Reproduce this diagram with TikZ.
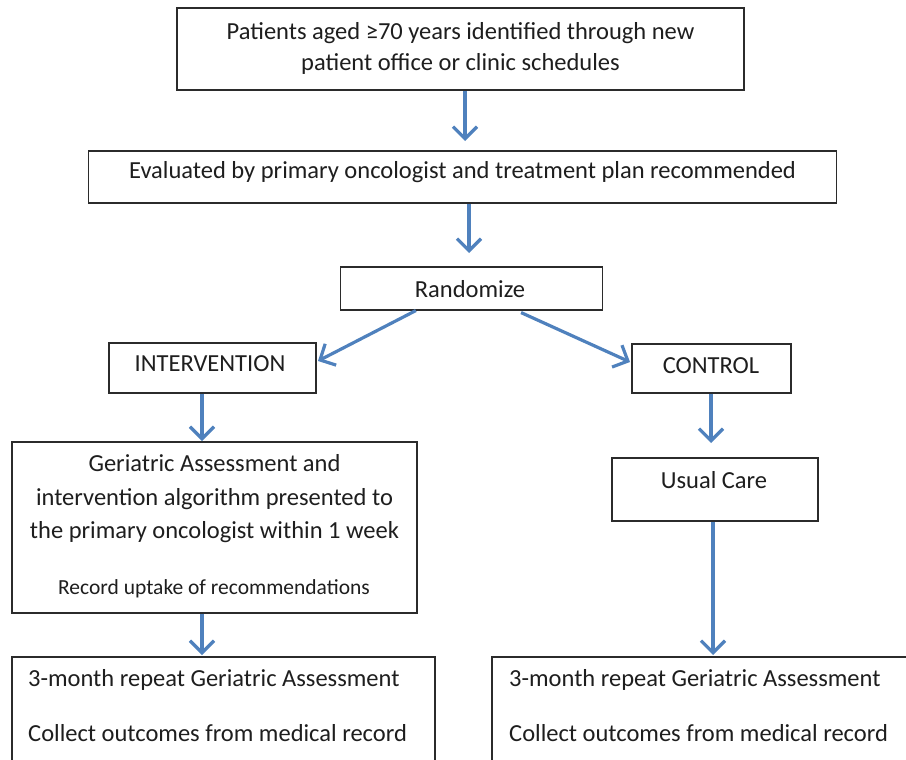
\documentclass[tikz,border=0pt]{standalone}
\usepackage{fontspec}
\setmainfont{Carlito}
\usetikzlibrary{arrows.meta}
\definecolor{flowblue}{HTML}{4F81BD}
\definecolor{boxline}{HTML}{2B2B2B}
\definecolor{ink}{HTML}{1E1E1E}
\begin{document}
\begin{tikzpicture}[x=1pt,y=-1pt,
  box/.style={draw=boxline,line width=1.8pt,fill=white,inner sep=0pt},
  txt/.style={text=ink,font=\fontsize{24.5}{31}\selectfont,inner sep=0pt,align=center},
  flow/.style={draw=flowblue,line width=3.2pt,-{Straight Barb[length=12pt,width=24pt,line width=3.2pt]}}]
\useasboundingbox (0,0) rectangle (906,760);
\begin{scope}
\clip (0,0) rectangle (906,760);
% boxes
\node[box,minimum width=567pt,minimum height=82pt] (start) at (460.5,49) {};
\node[box,minimum width=748pt,minimum height=52pt] (eval) at (462.5,177) {};
\node[box,minimum width=262pt,minimum height=43pt] (rand) at (471.5,288.5) {};
\node[box,minimum width=207pt,minimum height=50pt] (inter) at (212.5,368) {};
\node[box,minimum width=159pt,minimum height=49pt] (ctrl) at (711.5,368.5) {};
\node[box,minimum width=405pt,minimum height=171pt] (ga) at (214.5,527.5) {};
\node[box,minimum width=206pt,minimum height=63pt] (usual) at (715,489.5) {};
\node[box,minimum width=423pt,minimum height=160pt] (left3) at (223.5,737) {};
\node[box,minimum width=440pt,minimum height=160pt] (right3) at (712,737) {};
% texts
\node[txt] (starttxt) at (460.5,48) {Patients aged ≥70 years identified through new\\patient office or clinic schedules};
\node[txt] (evaltxt) at (462.5,172) {Evaluated by primary oncologist and treatment plan recommended};
\node[txt] (randtxt) at (470,289) {Randomize};
\node[txt] (intertxt) at (210,364) {INTERVENTION};
\node[txt] (ctrltxt) at (711,366) {CONTROL};
\node[txt,font=\fontsize{24.5}{33.5}\selectfont] (gatxt) at (214.5,499) {Geriatric Assessment and\\intervention algorithm presented to\\the primary oncologist within 1 week};
\node[txt,font=\fontsize{21.5}{24}\selectfont] (recordtxt) at (214,589) {Record uptake of recommendations};
\node[txt] (usualtxt) at (714,480) {Usual Care};
\node[txt,anchor=west] (l3a) at (28,680) {3-month repeat Geriatric Assessment};
\node[txt,anchor=west] (l3b) at (28,733) {Collect outcomes from medical record};
\node[txt,anchor=west] (r3a) at (509,680) {3-month repeat Geriatric Assessment};
\node[txt,anchor=west] (r3b) at (509,733) {Collect outcomes from medical record};
% connectors
\coordinate (a1) at (465,141);
\coordinate (a2) at (469,253);
\coordinate (dl0) at (415,311);
\coordinate (dl1) at (318,361);
\coordinate (dr0) at (522,313);
\coordinate (dr1) at (630,362);
\coordinate (a3) at (202,441);
\coordinate (a4) at (711,443);
\coordinate (a5) at (202,655);
\coordinate (a6) at (713,655);
\draw[flow] (start.south -| a1) -- (a1);
\draw[flow] (eval.south -| a2) -- (a2);
\draw[flow,shorten <=-1pt] (dl0) -- (dl1);
\draw[flow,shorten <=-1pt] (dr0) -- (dr1);
\draw[flow] (inter.south -| a3) -- (a3);
\draw[flow] (ctrl.south -| a4) -- (a4);
\draw[flow] (ga.south -| a5) -- (a5);
\draw[flow] (usual.south -| a6) -- (a6);
\end{scope}
\end{tikzpicture}
\end{document}
